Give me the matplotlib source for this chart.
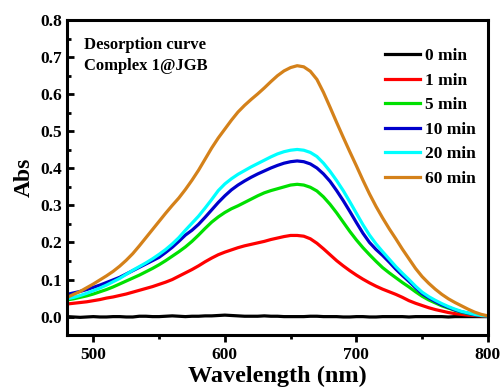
import numpy as np
import matplotlib
matplotlib.use("Agg")
import matplotlib.pyplot as plt
from matplotlib.ticker import MultipleLocator, FormatStrFormatter

plt.rcParams['font.family'] = ['Liberation Serif', 'DejaVu Serif']
plt.rcParams['font.weight'] = 'bold'

# wavelength grid (nm), 5 nm steps
wavelength = np.arange(480, 801, 5)

# absorbance, one list per desorption time
# rows: 480-525, 530-575, 580-625, 630-675, 680-725, 730-775, 780-800
abs_0min = [0.000, -0.001, -0.002, -0.001, 0.000, -0.001, -0.001, 0.000, 0.000, -0.001,
            -0.001, 0.001, 0.001, 0.000, 0.000, 0.001, 0.002, 0.001, 0.000, 0.001,
            0.001, 0.002, 0.002, 0.003, 0.004, 0.003, 0.002, 0.001, 0.001, 0.001,
            0.002, 0.001, 0.001, 0.000, 0.000, 0.000, 0.000, 0.001, 0.001, 0.000,
            0.000, 0.000, -0.001, -0.001, 0.000, 0.000, -0.001, -0.001, 0.000, 0.000,
            0.000, 0.000, -0.001, 0.000, 0.000, 0.000, 0.000, 0.000, -0.001, 0.000,
            0.000, 0.000, 0.000, 0.000, 0.000]
abs_1min = [0.034, 0.036, 0.038, 0.040, 0.043, 0.046, 0.050, 0.053, 0.057, 0.061,
            0.066, 0.071, 0.076, 0.081, 0.087, 0.093, 0.100, 0.109, 0.118, 0.127,
            0.137, 0.148, 0.158, 0.167, 0.174, 0.180, 0.186, 0.191, 0.195, 0.199,
            0.203, 0.208, 0.212, 0.216, 0.219, 0.219, 0.217, 0.210, 0.198, 0.183,
            0.167, 0.151, 0.137, 0.124, 0.112, 0.101, 0.091, 0.082, 0.074, 0.067,
            0.060, 0.052, 0.043, 0.036, 0.030, 0.024, 0.019, 0.015, 0.011, 0.008,
            0.006, 0.004, 0.003, 0.002, 0.001]
abs_5min = [0.045, 0.048, 0.052, 0.056, 0.061, 0.067, 0.073, 0.080, 0.088, 0.096,
            0.104, 0.112, 0.121, 0.130, 0.140, 0.151, 0.163, 0.175, 0.188, 0.203,
            0.220, 0.238, 0.255, 0.269, 0.281, 0.291, 0.299, 0.308, 0.317, 0.326,
            0.334, 0.340, 0.345, 0.350, 0.355, 0.357, 0.355, 0.349, 0.339, 0.323,
            0.303, 0.280, 0.255, 0.230, 0.207, 0.186, 0.167, 0.149, 0.132, 0.118,
            0.105, 0.092, 0.080, 0.067, 0.055, 0.045, 0.037, 0.029, 0.023, 0.017,
            0.012, 0.008, 0.005, 0.003, 0.002]
abs_10min = [0.060, 0.064, 0.068, 0.073, 0.079, 0.085, 0.092, 0.099, 0.106, 0.115,
             0.124, 0.133, 0.142, 0.151, 0.160, 0.173, 0.187, 0.203, 0.220, 0.233,
             0.249, 0.268, 0.288, 0.308, 0.326, 0.342, 0.355, 0.366, 0.376, 0.385,
             0.393, 0.401, 0.408, 0.414, 0.418, 0.420, 0.418, 0.412, 0.401, 0.385,
             0.365, 0.340, 0.313, 0.284, 0.254, 0.225, 0.200, 0.181, 0.165, 0.147,
             0.128, 0.111, 0.095, 0.078, 0.062, 0.051, 0.041, 0.032, 0.025, 0.018,
             0.013, 0.009, 0.005, 0.003, 0.002]
abs_20min = [0.048, 0.052, 0.057, 0.063, 0.070, 0.077, 0.085, 0.094, 0.103, 0.114,
             0.125, 0.135, 0.145, 0.156, 0.168, 0.181, 0.196, 0.213, 0.233, 0.252,
             0.271, 0.293, 0.316, 0.340, 0.358, 0.372, 0.384, 0.394, 0.404, 0.413,
             0.422, 0.431, 0.439, 0.445, 0.449, 0.451, 0.449, 0.443, 0.432, 0.414,
             0.392, 0.367, 0.340, 0.310, 0.279, 0.248, 0.220, 0.196, 0.175, 0.155,
             0.135, 0.117, 0.100, 0.082, 0.066, 0.054, 0.044, 0.035, 0.027, 0.020,
             0.014, 0.010, 0.006, 0.003, 0.002]
abs_60min = [0.052, 0.060, 0.068, 0.078, 0.088, 0.099, 0.110, 0.122, 0.136, 0.152,
             0.170, 0.191, 0.213, 0.235, 0.257, 0.279, 0.300, 0.320, 0.343, 0.368,
             0.395, 0.425, 0.455, 0.482, 0.506, 0.530, 0.552, 0.570, 0.586, 0.601,
             0.617, 0.634, 0.650, 0.663, 0.672, 0.677, 0.674, 0.662, 0.640, 0.605,
             0.565, 0.524, 0.484, 0.445, 0.407, 0.368, 0.331, 0.297, 0.266, 0.237,
             0.210, 0.182, 0.156, 0.130, 0.108, 0.090, 0.074, 0.060, 0.048, 0.038,
             0.029, 0.020, 0.012, 0.006, 0.002]

labels = ["0 min", "1 min", "5 min", "10 min", "20 min", "60 min"]
colors = ["black", "#ff0000", "#00e000", "#0000cc", "#00ffff", "#d4811a"]
series = [abs_0min, abs_1min, abs_5min, abs_10min, abs_20min, abs_60min]

fig = plt.figure(figsize=(5.04, 3.87), dpi=100)
ax = fig.add_axes([0.133, 0.134, 0.835, 0.814])

for y, c, lab in zip(series, colors, labels):
    ax.plot(wavelength, y, color=c, lw=2.3, label=lab, solid_joinstyle='round')

ax.set_xlim(480, 800)
ax.set_ylim(-0.05, 0.8)
ax.xaxis.set_major_locator(MultipleLocator(100))
ax.xaxis.set_minor_locator(MultipleLocator(50))
ax.yaxis.set_major_locator(MultipleLocator(0.1))
ax.yaxis.set_minor_locator(MultipleLocator(0.05))
ax.yaxis.set_major_formatter(FormatStrFormatter('%.1f'))

for sp in ax.spines.values():
    sp.set_linewidth(2.2)
ax.tick_params(axis='x', which='major', direction='out', length=5, width=2, labelsize=12.5)
ax.tick_params(axis='x', which='minor', direction='out', length=3, width=2)
ax.tick_params(axis='y', which='major', direction='in', length=5, width=2, labelsize=12.5)
ax.tick_params(axis='y', which='minor', direction='in', length=3, width=2)

ax.set_xlabel("Wavelength (nm)", fontsize=17.5, fontweight='bold', labelpad=2)
ax.set_ylabel("Abs", fontsize=17, fontweight='bold', labelpad=4)

ax.text(0.04, 0.945, "Desorption curve\nComplex 1@JGB", transform=ax.transAxes,
        fontsize=12, fontweight='bold', va='top', ha='left', linespacing=1.4)

ax.legend(loc='upper right', bbox_to_anchor=(1.0, 0.95), frameon=False,
          fontsize=12.5, handlelength=2.0, handletextpad=0.3, labelspacing=0.48,
          borderaxespad=0.3)

fig.savefig("out.png", dpi=100)
